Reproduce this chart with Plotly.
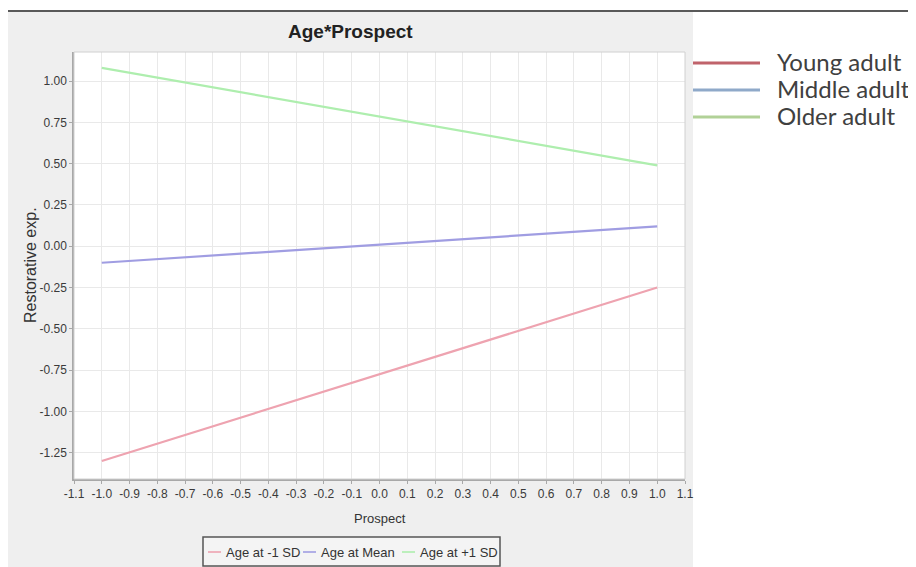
import plotly.graph_objects as go

# ---- data ----
prospect = [-1.0, 1.0]
young_adult = [-1.30, -0.25]      # Age at -1 SD
middle_adult = [-0.10, 0.12]      # Age at Mean
older_adult = [1.08, 0.49]        # Age at +1 SD

series_names = ["Age at -1 SD", "Age at Mean", "Age at +1 SD"]
side_names = ["Young adult", "Middle adult", "Older adult"]

x_ticks = [-1.1, -1.0, -0.9, -0.8, -0.7, -0.6, -0.5, -0.4, -0.3, -0.2, -0.1,
           0.0, 0.1, 0.2, 0.3, 0.4, 0.5, 0.6, 0.7, 0.8, 0.9, 1.0, 1.1]
x_tick_labels = ["-1.1", "-1.0", "-0.9", "-0.8", "-0.7", "-0.6", "-0.5", "-0.4", "-0.3", "-0.2", "-0.1",
                 "0.0", "0.1", "0.2", "0.3", "0.4", "0.5", "0.6", "0.7", "0.8", "0.9", "1.0", "1.1"]
y_ticks = [-1.25, -1.00, -0.75, -0.50, -0.25, 0.00, 0.25, 0.50, 0.75, 1.00]
y_tick_labels = ["-1.25", "-1.00", "-0.75", "-0.50", "-0.25", "0.00", "0.25", "0.50", "0.75", "1.00"]

# ---- layout geometry (screen pixels; the page body adds an 8px margin) ----
SW, SH = 916, 567
OFF = 8
L, R, T, B = 74, 685, 52, 479
line_colors = ["#eea3b0", "#a09de2", "#aeeeae"]
side_colors = ["#c0636b", "#8fa9c9", "#b1d197"]
TICK_FONT = "Liberation Sans Narrow, Arial Narrow, Liberation Sans, Arial"
TXT_FONT = "Liberation Sans, Arial"


def px(x):
    return (x - L) / (R - L)


def py(y):
    return (B - y) / (B - T)


fig = go.Figure()
for vals, name, col in zip([young_adult, middle_adult, older_adult], series_names, line_colors):
    fig.add_trace(go.Scatter(x=prospect, y=vals, mode="lines", name=name,
                             line=dict(color=col, width=2.2), showlegend=False))

shapes = []
# grey chart background and white plot area
shapes.append(dict(type="rect", xref="paper", yref="paper", layer="below",
                   x0=px(8), x1=px(693), y0=py(12), y1=py(570),
                   fillcolor="#efefef", line=dict(width=0)))
shapes.append(dict(type="rect", xref="paper", yref="paper", layer="below",
                   x0=0, x1=1, y0=0, y1=1, fillcolor="white", line=dict(width=0)))
# plot border (light)
shapes.append(dict(type="rect", xref="paper", yref="paper", layer="above",
                   x0=0, x1=1, y0=0, y1=1, fillcolor="rgba(0,0,0,0)",
                   line=dict(color="#d0d0d0", width=1)))
# outer black frame (top and left)
shapes.append(dict(type="line", xref="paper", yref="paper", layer="above",
                   x0=px(7), x1=px(920), y0=py(11), y1=py(11),
                   line=dict(color="#222222", width=1.5)))
shapes.append(dict(type="line", xref="paper", yref="paper", layer="above",
                   x0=px(7), x1=px(7), y0=py(11), y1=py(572),
                   line=dict(color="#222222", width=1.5)))
# bottom legend box
shapes.append(dict(type="rect", xref="paper", yref="paper", layer="above",
                   x0=px(203), x1=px(500), y0=py(537), y1=py(566), fillcolor="#f4f4f4",
                   line=dict(color="#555555", width=1.5)))

annotations = []
# bottom legend items
leg_x = [208, 303, 402]
leg_y = 552
for xs, name, col in zip(leg_x, series_names, line_colors):
    shapes.append(dict(type="line", xref="paper", yref="paper", layer="above",
                       x0=px(xs), x1=px(xs + 13), y0=py(leg_y), y1=py(leg_y),
                       line=dict(color=col, width=1.6)))
    annotations.append(dict(xref="paper", yref="paper", x=px(xs + 16), y=py(leg_y),
                            xanchor="left", yanchor="middle", showarrow=False, text=name,
                            font=dict(family=TXT_FONT, size=13, color="#333333")))

# side legend
side_y = [63, 90, 117]
for yy, name, col in zip(side_y, side_names, side_colors):
    shapes.append(dict(type="line", xref="paper", yref="paper", layer="above",
                       x0=px(693), x1=px(760), y0=py(yy), y1=py(yy),
                       line=dict(color=col, width=3)))
    annotations.append(dict(xref="paper", yref="paper", x=px(775), y=py(yy - 1.5),
                            xanchor="left", yanchor="middle", showarrow=False, text=name,
                            font=dict(family="Lato, Open Sans, sans-serif", size=24, color="#404040")))

# title and axis titles
annotations.append(dict(xref="paper", yref="paper", x=px(350), y=py(32), xanchor="center",
                        yanchor="middle", showarrow=False, text="<b>Age*Prospect</b>",
                        font=dict(family=TXT_FONT, size=19, color="#222222")))
annotations.append(dict(xref="paper", yref="paper", x=px(380), y=py(518), xanchor="center",
                        yanchor="middle", showarrow=False, text="Prospect",
                        font=dict(family=TXT_FONT, size=13, color="#333333")))
annotations.append(dict(xref="paper", yref="paper", x=px(30), y=py(265), xanchor="center",
                        yanchor="middle", showarrow=False, text="Restorative exp.", textangle=-90,
                        font=dict(family=TXT_FONT, size=16, color="#333333")))

axis_common = dict(showgrid=True, gridcolor="#e9e9e9", gridwidth=1, zeroline=False,
                   showline=True, linecolor="#a8a8a8", linewidth=1.5,
                   ticks="outside", ticklen=3, tickcolor="#a8a8a8",
                   tickfont=dict(family=TICK_FONT, size=12, color="#3a3a3a"))

fig.update_layout(
    width=SW - OFF, height=SH - OFF,
    margin=dict(l=L - OFF, r=SW - R, t=T - OFF, b=SH - B, pad=0),
    paper_bgcolor="white", plot_bgcolor="white",
    shapes=shapes, annotations=annotations,
    xaxis=dict(range=[-1.1, 1.1], tickvals=x_ticks, ticktext=x_tick_labels, **axis_common),
    yaxis=dict(range=[-1.409, 1.176], tickvals=y_ticks, ticktext=y_tick_labels, **axis_common),
)

fig.write_html("out.html")
